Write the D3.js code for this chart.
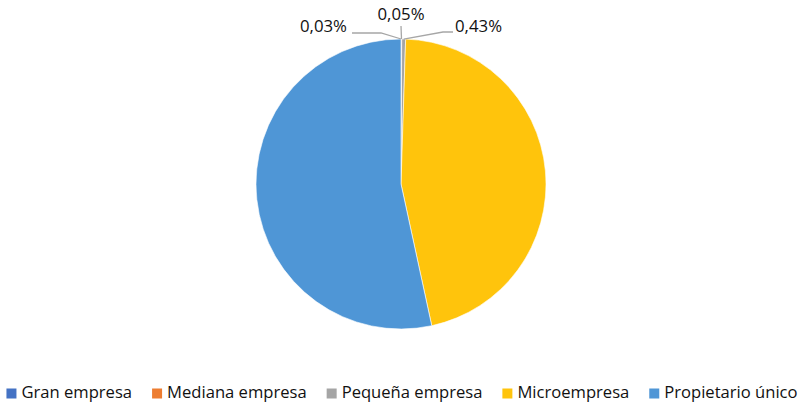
<!DOCTYPE html>
<html><head><meta charset="utf-8">
<script src="https://cdn.jsdelivr.net/npm/d3@7"></script>
<style>body{margin:0;background:#fff}svg{display:block}text{font-family:"Open Sans",sans-serif;fill:#111}</style>
</head><body><svg id="c" width="799" height="406"></svg>
<script>
const categories = ["Gran empresa","Mediana empresa","Pequeña empresa","Microempresa","Propietario único"];
const values = [0.03, 0.05, 0.43, 46.09, 53.40];
const valueLabels = ["0,03%","0,05%","0,43%","",""];
const colors = ["#4472C4","#ED7D31","#A5A5A5","#FFC40C","#4F96D6"];

const svg = d3.select("#c");
const cx = 401, cy = 184, R = 145;
const data = categories.map((c,i)=>({cat:c, v:values[i], label:valueLabels[i], color:colors[i]}));
const pie = d3.pie().value(d=>d.v).sort(null);
const arcs = pie(data);
const arc = d3.arc().innerRadius(0).outerRadius(R);
const g = svg.append("g").attr("transform",`translate(${cx},${cy})`);
g.selectAll("path").data(arcs).join("path")
  .attr("d",arc).attr("fill",d=>d.data.color)
  .attr("stroke","#fff").attr("stroke-width",0.6);

const labelLayout = [
  {elbow:[-20,-151], end:[-49,-151], tx:-54, ty:-152, anchor:"end"},
  {elbow:[0,-158], end:[0,-158], tx:0, ty:-164, anchor:"middle"},
  {elbow:[42,-152], end:[52,-152], tx:54, ty:-152, anchor:"start"}
];
arcs.forEach((a,i)=>{
  if(!a.data.label) return;
  const L = labelLayout[i];
  const mid = (a.startAngle+a.endAngle)/2;
  const p0 = [Math.sin(mid)*R, -Math.cos(mid)*R];
  g.append("polyline")
    .attr("points",[p0,L.elbow,L.end].map(p=>p.join(",")).join(" "))
    .attr("fill","none").attr("stroke","#a6a6a6").attr("stroke-width",1.3);
  g.append("text").attr("x",L.tx).attr("y",L.ty).attr("text-anchor",L.anchor)
    .attr("font-size",16.8).text(a.data.label);
});

const leg = svg.append("g");
let x = 0;
data.forEach(d=>{
  const it = leg.append("g").attr("transform",`translate(${x},0)`);
  it.append("rect").attr("x",0).attr("y",388.5).attr("width",10).attr("height",10).attr("fill",d.color);
  const t = it.append("text").attr("x",15).attr("y",398).attr("font-size",16.6).text(d.cat);
  const w = t.node().getComputedTextLength();
  x += 15 + w + 20;
});
const total = x - 20;
leg.attr("transform",`translate(${402 - total/2},0)`);
</script></body></html>
